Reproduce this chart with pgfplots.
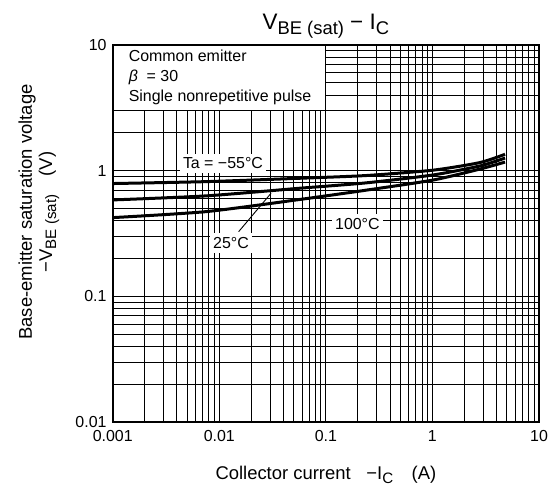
\documentclass[border=0pt]{standalone}
\usepackage{fontspec}
\setmainfont{Liberation Sans}
\usepackage{graphicx}
\usepackage{pgfplots}
\pgfplotsset{compat=1.18}
\newcommand{\lbl}{\fontsize{16}{18}\selectfont}
\newcommand{\boxfont}{\fontsize{16}{19}\selectfont}
\newcommand{\axfont}{\fontsize{18.5}{22}\selectfont}
\newcommand{\sub}[1]{\raisebox{-0.22em}{\scalebox{0.82}{#1}}}
\begin{document}
\begin{tikzpicture}[x=1bp,y=1bp]
\path[use as bounding box] (0,0) rectangle (553,490);
\begin{axis}[
  at={(112.7bp,68bp)}, anchor=south west,
  scale only axis, width=426.3bp, height=377bp,
  xmode=log, ymode=log,
  xmin=0.001, xmax=10, ymin=0.01, ymax=10,
  xtick={0.001,0.01,0.1,1,10}, xticklabels={0.001,0.01,0.1,1,10},
  ytick={0.01,0.1,1,10}, yticklabels={0.01,0.1,1,10},
  /pgf/number format/assume math mode=true,
  tick label style={font=\lbl},
  xticklabel style={inner sep=0pt, yshift=-8bp},
  yticklabel style={inner sep=0pt, xshift=-6bp},
  major tick length=0pt, minor tick length=0pt,
  grid=both,
  major grid style={black, line width=1.2bp},
  minor grid style={black, line width=1bp},
  axis line style={line width=1.8bp},
  clip=false,
]
% curves: Ta = -55, 25, 100 degC
\addplot[black, line width=3bp, smooth, tension=0.4] coordinates {
  (0.001,0.79) (0.0075,0.818) (0.057,0.87) (0.24,0.915) (1.02,1.01) (2.79,1.16) (4.8,1.35)
};
\addplot[black, line width=3bp, smooth, tension=0.4] coordinates {
  (0.001,0.585) (0.0075,0.63) (0.057,0.725) (0.24,0.80) (1.02,0.925) (2.79,1.09) (4.8,1.26)
};
\addplot[black, line width=3bp, smooth, tension=0.4] coordinates {
  (0.001,0.423) (0.0075,0.472) (0.057,0.59) (0.24,0.70) (1.02,0.843) (2.79,1.03) (4.8,1.17)
};

% condition box
\fill[white] (axis cs:0.001,3) rectangle (axis cs:0.1,10);
\draw[line width=1.2bp] (axis cs:0.1,10) -- (axis cs:0.1,3) -- (axis cs:0.001,3);
\node[anchor=base west, font=\boxfont, inner sep=0pt] at (axis cs:0.00141,7.33) {Common emitter};
\node[anchor=base west, font=\boxfont, inner sep=0pt] at (axis cs:0.00141,5.08) {\textit{β}\hspace{0.55em}= 30};
\node[anchor=base west, font=\boxfont, inner sep=0pt] at (axis cs:0.00141,3.58) {Single nonrepetitive pulse};

% curve labels
\node[fill=white, font=\boxfont, inner xsep=3bp, inner ysep=4bp] at (axis cs:0.01083,1.145) {Ta = −55°C};
\draw[line width=0.9bp] (axis cs:0.0152,0.327) -- (axis cs:0.0306,0.661);
\node[fill=white, font=\boxfont, inner xsep=3bp, inner ysep=4bp] at (axis cs:0.01288,0.266) {25°C};
\node[fill=white, font=\boxfont, inner xsep=3bp, inner ysep=4bp] at (axis cs:0.1977,0.377) {100°C};

\draw[line width=1.8bp] (rel axis cs:0,0) rectangle (rel axis cs:1,1);

% title and axis labels
\node[anchor=base, font=\fontsize{22.5}{26}\selectfont] at ([yshift=15bp]rel axis cs:0.5,1)
  {V\sub{BE (sat)} − I\sub{C}};
\node[anchor=base, font=\axfont] at ([yshift=-57bp]rel axis cs:0.5,0)
  {Collector current\hspace{0.85em}−I\sub{C}\hspace{1em}(A)};
\end{axis}
\node[rotate=90, font=\axfont] at (27,278) {Base-emitter saturation voltage};
\node[rotate=90, font=\axfont] at (49,278) {−V\sub{BE (sat)}\hspace{1em}(V)};
\end{tikzpicture}
\end{document}
